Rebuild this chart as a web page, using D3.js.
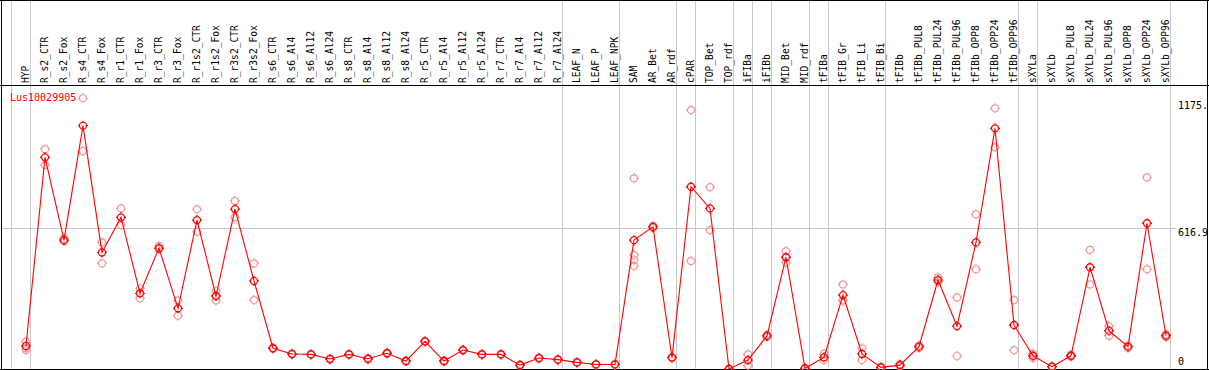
<!DOCTYPE html>
<html>
<head>
<meta charset="utf-8">
<script src="https://cdn.jsdelivr.net/npm/d3@7"></script>
<style>
  html, body { margin: 0; padding: 0; background: #fff; }
  svg { display: block; }
  text { font-family: "DejaVu Sans Mono", "Liberation Mono", monospace; }
</style>
</head>
<body>
<svg id="chart" width="1209" height="370"></svg>
<script>
const title = "Lus10029905";

const categories = ["HYP","R_s2_CTR","R_s2_Fox","R_s4_CTR","R_s4_Fox","R_r1_CTR","R_r1_Fox","R_r3_CTR","R_r3_Fox",
  "R_r1s2_CTR","R_r1s2_Fox","R_r3s2_CTR","R_r3s2_Fox","R_s6_CTR","R_s6_Al4","R_s6_Al12","R_s6_Al24",
  "R_s8_CTR","R_s8_Al4","R_s8_Al12","R_s8_Al24","R_r5_CTR","R_r5_Al4","R_r5_Al12","R_r5_Al24",
  "R_r7_CTR","R_r7_Al4","R_r7_Al12","R_r7_Al24","LEAF_N","LEAF_P","LEAF_NPK","SAM","AR_Bet","AR_rdf",
  "cPAR","TOP_Bet","TOP_rdf","iFIBa","iFIBb","MID_Bet","MID_rdf","tFIBa","tFIB_Gr","tFIB_Li","tFIB_Bi",
  "tFIBb","tFIBb_PUL8","tFIBb_PUL24","tFIBb_PUL96","tFIBb_OPP8","tFIBb_OPP24","tFIBb_OPP96",
  "sXYLa","sXYLb","sXYLb_PUL8","sXYLb_PUL24","sXYLb_PUL96","sXYLb_OPP8","sXYLb_OPP24","sXYLb_OPP96"];

const means = [101,928,565,1067,511,665,332,530,266,
  653,320,701,386,91,66,64,44,
  64,45,69,35,121,35,83,64,
  64,17,48,41,29,20,20,565,623,50,
  799,704,0,39,145,490,3,51,324,66,7,
  17,98,390,188,555,1055,193,
  58,10,58,446,168,98,639,146];

const replicates = [[120,91,83],[964,894],[572,560],[1187,956],[555,463],[704,631],[354,310],[540,526],[300,234],
  [700,602],[343,300],[737,665],[463,302],[93,89],[68,64],[66,62],[46,42],
  [66,62],[47,43],[71,67],[37,33],[123,119],[37,33],[85,81],[66,62],
  [66,62],[19,15],[50,46],[43,39],[31,27],[22,18],[22,18],[836,500,478,452],[628,618],[52,48],
  [1135,473],[797,609],[2,0],[64,15],[150,140],[517,466],[5,1],[66,39],[371,302,299],[91,39],[9,5],
  [21,13],[103,92],[402,380],[314,57],[678,437],[1143,972],[302,83],
  [68,48],[12,8],[62,54],[522,371],[188,146],[103,92],[840,437],[152,140]];

// categories after which a group separator is drawn
const separatorsAfter = ["HYP","R_r7_Al24","LEAF_NPK","AR_rdf","cPAR","TOP_rdf","iFIBa","iFIBb","MID_rdf",
  "tFIBa","tFIB_Bi","tFIBb_OPP96","sXYLa","sXYLb_OPP96"];

const yTicks = [{v:1175, label:"1175."},{v:616.9, label:"616.9"},{v:0, label:"0"}];
const gridValue = 616.9;

const W = 1209, H = 370;
const headerY = 85, bottomY = 369;
const svg = d3.select("#chart");

const x = d3.scalePoint().domain(categories).range([26, 1166]).padding(0);
const step = x.step();
const y = d3.scaleLinear().domain([0, 1175]).range([bottomY, 101]);

svg.append("rect").attr("width", W).attr("height", H).attr("fill", "#fff");

// vertical separators
const sepX = [x(categories[0]) - step + 4.5].concat(separatorsAfter.map(c => x(c) + 4.5));
svg.append("g").selectAll("line").data(sepX).join("line")
  .attr("x1", d => Math.floor(d) + 0.5).attr("x2", d => Math.floor(d) + 0.5)
  .attr("y1", 0).attr("y2", H)
  .attr("stroke", "#c8c8c8").attr("stroke-width", 1);

// horizontal grid line
svg.append("line")
  .attr("x1", 1).attr("x2", 1176)
  .attr("y1", Math.round(y(gridValue)) + 0.5).attr("y2", Math.round(y(gridValue)) + 0.5)
  .attr("stroke", "#c8c8c8").attr("stroke-width", 1);

// frame
svg.append("line").attr("x1", 0).attr("x2", W).attr("y1", 0.5).attr("y2", 0.5).attr("stroke", "#000");
svg.append("line").attr("x1", 0).attr("x2", W).attr("y1", headerY + 0.5).attr("y2", headerY + 0.5).attr("stroke", "#000");
svg.append("line").attr("x1", 0).attr("x2", W).attr("y1", bottomY + 0.5).attr("y2", bottomY + 0.5).attr("stroke", "#000");
svg.append("line").attr("x1", 1.5).attr("x2", 1.5).attr("y1", 0).attr("y2", H).attr("stroke", "#000");
svg.append("line").attr("x1", W - 1.5).attr("x2", W - 1.5).attr("y1", 0).attr("y2", H).attr("stroke", "#000");

// category labels (rotated)
svg.append("g").selectAll("text").data(categories).join("text")
  .attr("transform", d => `translate(${x(d)},83) rotate(-90)`)
  .attr("dy", "0.36em")
  .attr("font-size", "9.6px")
  .attr("fill", "#000")
  .text(d => d);

// right axis labels
const labelBaselines = {1175: 111, 616.9: 236, 0: 365};
svg.append("g").selectAll("text").data(yTicks).join("text")
  .attr("x", 1178)
  .attr("y", d => d.v === 0 ? bottomY - 4 : y(d.v) + 8)
  .attr("font-size", "10px")
  .attr("fill", "#000")
  .text(d => d.label);

// title
svg.append("text").attr("x", 10).attr("y", 101)
  .attr("font-size", "10px").attr("fill", "#ff0000").text(title);

// marker path: circle with four small ticks
function markerPath(r, t) {
  const c = d3.path();
  c.moveTo(r, 0); c.arc(0, 0, r, 0, Math.PI * 2);
  c.moveTo(0, -r); c.lineTo(0, -r - t);
  c.moveTo(0, r); c.lineTo(0, r + t);
  c.moveTo(-r, 0); c.lineTo(-r - t, 0);
  c.moveTo(r, 0); c.lineTo(r + t, 0);
  return c.toString();
}
const mk = markerPath(3.5, 1.5);

// replicate points
const repPts = [];
categories.forEach((c, i) => replicates[i].forEach(v => repPts.push({c, v})));
svg.append("g").selectAll("path").data(repPts).join("path")
  .attr("transform", d => `translate(${x(d.c)},${y(d.v)})`)
  .attr("d", mk).attr("fill", "none").attr("stroke", "#f09a9a").attr("stroke-width", 1.2);

// mean line
const line = d3.line().x((d, i) => x(categories[i])).y(d => y(d));
svg.append("path").datum(means).attr("d", line)
  .attr("fill", "none").attr("stroke", "#ff0000").attr("stroke-width", 1.1);

// mean points
svg.append("g").selectAll("path").data(means).join("path")
  .attr("transform", (d, i) => `translate(${x(categories[i])},${y(d)})`)
  .attr("d", mk).attr("fill", "none").attr("stroke", "#ff0000").attr("stroke-width", 1.3);
</script>
</body>
</html>
